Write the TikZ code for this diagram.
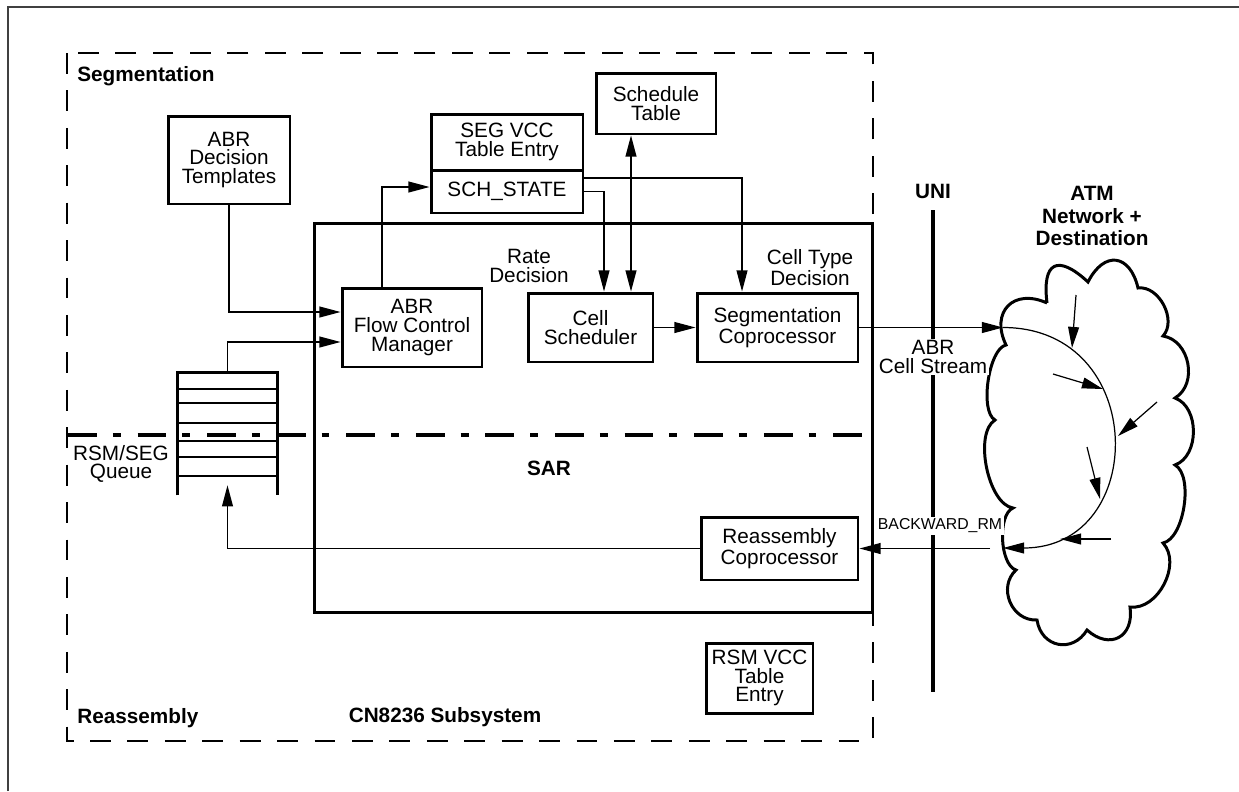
\documentclass[tikz,border=0pt]{standalone}
\usepackage{fontspec}
\setmainfont{Liberation Sans}
\usetikzlibrary{arrows.meta}

\begin{document}
\begin{tikzpicture}[
  x=0.02cm, y=-0.02cm,
  font=\fontsize{11.8}{10.6}\selectfont,
  box/.style={draw, line width=1.7pt, align=center, inner sep=0pt},
  lbl/.style={font=\fontsize{11.8}{10.6}\selectfont\bfseries, align=center, inner sep=0pt},
  arr/.style={-{Triangle[length=12pt, width=6.2pt]}, line width=0.7pt},
  biarr/.style={{Triangle[length=12pt, width=6.2pt]}-{Triangle[length=12pt, width=6.2pt]}, line width=0.7pt},
  region/.style={line width=1.1pt, dash pattern=on 11.9pt off 9.4pt},
  split/.style={line width=2.8pt, dash pattern=on 16.4pt off 9.1pt on 4.5pt off 9.6pt}
]
\useasboundingbox (0,0) rectangle (1239,791);
% page frame
\draw[line width=1.2pt, black!75] (8,791) -- (8,7) -- (1239,7);
% subsystem region
\draw[region] (67,53) rectangle (873,741);
\node[lbl, anchor=west] (seglbl) at (77,76) {Segmentation};
\node[lbl, anchor=west] (rsmlbl) at (77,718) {Reassembly};
\node[lbl] (sublbl) at (445,717) {CN8236 Subsystem};
% SAR block
\node[box, minimum width=11.18cm, minimum height=7.8cm] (sar) at (593.5,418) {};
\node[lbl] (sarlbl) at (549,468) {SAR};
% tables and blocks
\node[box, minimum width=2.44cm, minimum height=1.76cm] (tmpl) at (229,160) {ABR\\Decision\\Templates};
\node[box, minimum width=3.04cm, minimum height=1.12cm] (segvcc) at (507,142) {SEG VCC\\Table Entry};
\node[box, minimum width=3.04cm, minimum height=0.86cm] (sch) at (507,191.5) {SCH\_STATE};
\node[box, minimum width=2.4cm, minimum height=1.22cm] (table) at (656,103.5) {Schedule\\Table};
\node[box, minimum width=2.8cm, minimum height=1.58cm] (fcm) at (412,327.5) {ABR\\Flow Control\\Manager};
\node[box, minimum width=2.5cm, minimum height=1.38cm] (sched) at (590.5,327.5) {Cell\\Scheduler};
\node[box, minimum width=3.22cm, minimum height=1.38cm] (segco) at (777.5,327.5) {Segmentation\\Coprocessor};
\node[box, minimum width=3.14cm, minimum height=1.26cm] (reasm) at (779.5,548.5) {Reassembly\\Coprocessor};
\node[box, minimum width=2.14cm, minimum height=1.4cm] (rsmvcc) at (759.5,678) {RSM VCC\\Table\\Entry};
\node[align=center, inner sep=0pt] (rate) at (529,266) {Rate\\Decision};
\node[align=center, inner sep=0pt] (ctype) at (810,268) {Cell Type\\Decision};
% queue
\node[inner sep=0pt, minimum width=1.98cm, minimum height=2.44cm] (queue) at (227.5,434) {};
\draw[line width=1.7pt] (queue.south west) -- (queue.north west) -- (queue.north east) -- (queue.south east);
\foreach \yy in {389,403,423,441,457,476}
  \draw[line width=1.4pt] (178,\yy) -- (277,\yy);
\node[align=center, inner sep=0pt] (qlbl) at (121,464) {RSM/SEG\\Queue};
% segmentation / reassembly split
\draw[split] (68,435) -- (873,435);
% UNI
\draw[line width=2.8pt] (933,210) -- (933,692);
\node[lbl] (uni) at (933,191) {UNI};
% ATM cloud
\node[lbl, font=\fontsize{11.8}{13}\selectfont\bfseries] (atm) at (1092,216) {ATM\\Network +\\Destination};
\draw[line width=1.7pt]
  (1047,303) to[bend left=70, looseness=2.3] (1088,282)
  to[bend left=70, looseness=1.8] (1138,288)
  to[bend left=70, looseness=1.0] (1163,336)
  to[bend left=70, looseness=1.1] (1175,398)
  to[bend left=70, looseness=1.0] (1175,465)
  to[bend left=70, looseness=0.7] (1163,543)
  to[bend left=70, looseness=1.0] (1130,607)
  to[bend left=70, looseness=1.6] (1087,630)
  to[bend left=70, looseness=1.4] (1037,620)
  to[bend left=70, looseness=1.2] (1016,570)
  to[bend left=70, looseness=0.7] (1013,508)
  to[bend left=70, looseness=0.72] (995,420)
  to[bend left=70, looseness=0.6] (1006,345)
  to[bend left=70, looseness=1.6] (1047,303);
\coordinate (cin) at (1003,327.5);
\coordinate (cout) at (1003,548);
\coordinate (bwd) at (990,548.5);
\draw[arr] (cin) to[out=0, in=0, looseness=1.7] (cout);
\foreach \xa/\ya/\xb/\yb in {1076/295/1072/348, 1053/374/1103/389, 1157/402/1118/436,
                              1087/447/1100/499, 1111/539/1060/539}
  \draw[arr] (\xa,\ya) -- (\xb,\yb);
% connectors
\draw[arr] (tmpl.south) |- ([yshift=0.31cm]fcm.west);
\draw[arr] (queue.north) |- ([yshift=-0.29cm]fcm.west);
\draw[arr] ([xshift=-0.6cm]fcm.north) |- ([yshift=0.09cm]sch.west);
\draw[arr] (sch.east) -| ([xshift=0.27cm]sched.north);
\draw[arr] ([yshift=0.27cm]sch.east) -| ([xshift=-0.71cm]segco.north);
\coordinate (dbl) at ([xshift=0.81cm]sched.north);
\draw[biarr] (dbl) -- (dbl |- table.south);
\draw[arr] (sched) -- (segco);
\draw[arr] (segco) -- (cin);
\draw[arr] (bwd) -- (reasm);
\draw[arr] (reasm.west) -| ([yshift=0.2cm]queue.south);
% stream labels
\node[align=center, fill=white, inner sep=1pt] (abrlbl) at (933,357) {ABR\\Cell Stream};
\node[fill=white, inner sep=1pt, font=\fontsize{9}{10}\selectfont] (bwdlbl) at (940,526) {BACKWARD\_RM};
\end{tikzpicture}
\end{document}
